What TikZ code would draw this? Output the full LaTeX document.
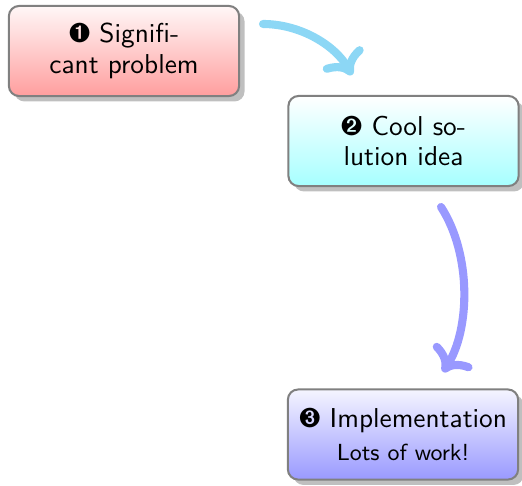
\documentclass[tikz,border=0pt]{standalone}
\usepackage{pifont}
\usetikzlibrary{shadows,arrows.meta}
\definecolor{arrowA}{RGB}{140,215,245}
\definecolor{arrowB}{RGB}{153,153,255}
\tikzset{
  stagebox/.style={draw=black!50, line width=0.8pt, rounded corners=4pt,
    minimum width=91pt, minimum height=35.6pt, align=center,
    font=\sffamily\fontsize{10.8}{12}\selectfont, drop shadow, inner sep=2pt},
  bigarrow/.style={line width=3.2pt, line cap=round, -{Computer Modern Rightarrow[round]}}
}
\begin{document}
\begin{tikzpicture}[x=0.3953pt,y=-0.3953pt]
\useasboundingbox (0,0) rectangle (522,485);
\node[stagebox, top color=red!3, bottom color=red!38] (p) at (124,51)
  {\ding{202} Signifi-\\cant problem};
\node[stagebox, top color=white, bottom color=cyan!35] (s) at (403.5,141)
  {\ding{203} Cool so-\\lution idea};
\node[stagebox, top color=blue!4, bottom color=blue!40] (i) at (403,434.5)
  {\ding{204} Implementation\\[1pt]{\fontsize{9.2}{11}\selectfont Lots of work!}};
\coordinate (a1) at (263,24);
\coordinate (a2) at (352,75);
\coordinate (b1) at (441,207);
\coordinate (b2) at (443,372);
\draw[bigarrow, arrowA] (a1) .. controls (300,24) and (335,45) .. (a2);
\draw[bigarrow, arrowB] (b1) .. controls (472,255) and (470,330) .. (b2);
\end{tikzpicture}
\end{document}
